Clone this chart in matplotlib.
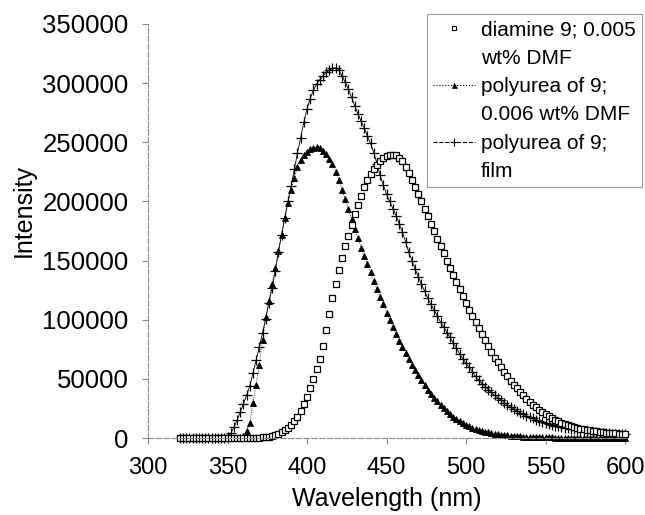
import numpy as np
import matplotlib.pyplot as plt
from matplotlib.lines import Line2D

plt.rcParams['font.family'] = ['Liberation Sans', 'DejaVu Sans']

# wavelength grid (nm), one reading every 2 nm
wavelength = np.arange(320, 601, 2)

# diamine 9; 0.005 wt% DMF (open squares)
diamine_dmf = [
    0, 0, 0, 0, 0, 0, 0, 0, 0, 0,                                              # 320-338
    0, 0, 0, 0, 0, 0, 0, 0, 0, 0,                                              # 340-358
    0, 0, 100, 200, 300, 400, 600, 800, 1200, 1800,                            # 360-378
    2600, 3600, 5000, 6800, 8800, 11200, 14200, 17800, 22500, 28500,           # 380-398
    35000, 42000, 50000, 58000, 67000, 78000, 91000, 105000, 118000, 130000,   # 400-418
    142000, 152000, 162000, 171000, 180000, 189000, 197000, 205000, 212000, 218000,
    223000, 227000, 231000, 234000, 236500, 238000, 239000, 239500, 239000, 237000,
    234000, 229000, 224000, 218000, 212000, 206000, 200000, 194000, 188000, 181000,
    175000, 168000, 162000, 156000, 150000, 144000, 138000, 132000, 126000, 120000,
    114000, 108000, 103000, 98000, 93000, 88000, 83000, 78000, 73000, 68000,   # 500-518
    64000, 60000, 56000, 52000, 48000, 45000, 42000, 39000, 36000, 33000,
    30500, 28000, 26000, 24000, 22000, 20000, 18500, 17000, 15500, 14000,
    13000, 12000, 11000, 10000, 9300, 8600, 8000, 7400, 6900, 6400,
    6000, 5600, 5200, 4900, 4600, 4300, 4100, 3900, 3700, 3500,
    3400,                                                                      # 600
]

# polyurea of 9; 0.006 wt% DMF (filled triangles)
polyurea_dmf = [
    0, 0, 0, 0, 0, 0, 0, 0, 0, 0,
    0, 0, 0, 0, 0, 0, 0, 0, 0, 500,
    2000, 6000, 13000, 30000, 45000, 62000, 83000, 102000, 116000, 130000,
    144000, 158000, 172000, 186000, 199000, 210000, 220000, 229000, 235000, 239000,
    242000, 244000, 245500, 246000, 245000, 243000, 240000, 236000, 232000, 225000,
    218000, 210000, 202000, 194000, 185000, 177000, 169000, 161000, 154000, 147000,
    140000, 133000, 126000, 119000, 113000, 106000, 100000, 94000, 88000, 82000,
    77000, 72000, 67000, 62000, 57500, 53000, 49000, 45000, 41000, 37500,
    34000, 31000, 28000, 25000, 22500, 20000, 18000, 16000, 14000, 12500,
    11000, 9800, 8700, 7700, 6800, 6000, 5300, 4700, 4100, 3600,
    3200, 2800, 2500, 2200, 1900, 1700, 1500, 1300, 1100, 1000,
    900, 800, 700, 650, 600, 550, 500, 450, 400, 380,
    350, 320, 300, 280, 260, 240, 220, 200, 190, 180,
    170, 160, 150, 140, 130, 120, 110, 100, 100, 100,
    100,
]

# polyurea of 9; film (plus signs)
polyurea_film = [
    0, 0, 0, 0, 0, 0, 0, 0, 0, 0,
    0, 0, 0, 0, 0, 1000, 4000, 9000, 15000, 22000,
    29000, 36000, 44000, 55000, 66000, 77000, 89000, 101000, 114000, 127000,
    141000, 157000, 172000, 186000, 200000, 213000, 227000, 241000, 254000, 267000,
    278000, 287000, 294000, 299000, 303000, 306000, 309000, 311000, 312500, 313000,
    311000, 306000, 301000, 295000, 288000, 281000, 274000, 268000, 262000, 255000,
    249000, 241000, 232000, 222000, 214000, 206000, 200000, 194000, 188000, 181000,
    174000, 166000, 157000, 150000, 143000, 136000, 130000, 124000, 118000, 113000,
    108000, 103000, 98000, 94000, 89000, 85000, 80000, 76000, 71000, 67000,
    63000, 60000, 56000, 52000, 49000, 46000, 43500, 41000, 38500, 36000,
    34000, 32000, 30000, 28000, 26000, 24500, 23000, 21500, 20000, 18500,
    17500, 16500, 15500, 14500, 13500, 12700, 12000, 11200, 10500, 9800,
    9200, 8700, 8200, 7700, 7200, 6800, 6400, 6000, 5700, 5400,
    5100, 4800, 4600, 4300, 4100, 3900, 3700, 3500, 3300, 3100,
    3000,
]

legend_labels = ['diamine 9; 0.005', 'wt% DMF',
                 'polyurea of 9;', '0.006 wt% DMF',
                 'polyurea of 9;', 'film']

fig = plt.figure(figsize=(6.45, 5.15), dpi=100)
ax = fig.add_axes([0.2295, 0.1495, 0.7395, 0.8039])

ax.plot(wavelength, polyurea_film, color='black', linestyle='-', linewidth=0.6,
        marker='+', markersize=6.5, markeredgewidth=0.9, clip_on=False)
ax.plot(wavelength, polyurea_dmf, color='black', linestyle=':', linewidth=0.6,
        marker='^', markersize=4.2, markeredgewidth=0.6, clip_on=False)
ax.plot(wavelength, diamine_dmf, color='black', linestyle='none',
        marker='s', markersize=3.9, markerfacecolor='white',
        markeredgewidth=0.9, clip_on=False)

ax.set_xlim(300, 600)
ax.set_ylim(0, 350000)
ax.set_xticks(np.arange(300, 601, 50))
ax.set_yticks(np.arange(0, 350001, 50000))
ax.ticklabel_format(style='plain', axis='y')

for side in ['top', 'right']:
    ax.spines[side].set_visible(False)
for side in ['left', 'bottom']:
    ax.spines[side].set_color('#8a8a8a')
    ax.spines[side].set_linewidth(0.8)
    ax.spines[side].set_linestyle((0, (5, 2)))

ax.tick_params(axis='both', direction='out', length=4, width=0.8,
               color='#8a8a8a', pad=10, labelcolor='black')
ax.tick_params(axis='x', labelsize=17)
ax.tick_params(axis='y', labelsize=18.5)

ax.set_xlabel('Wavelength (nm)', fontsize=18)
ax.set_ylabel('Intensity', fontsize=18)
ax.xaxis.set_label_coords(0.5, -0.118)
ax.yaxis.set_label_coords(-0.236, 0.55)

handles = [
    Line2D([], [], color='black', linestyle='none', marker='s', markersize=3.4,
           markerfacecolor='white', markeredgewidth=0.8),
    Line2D([], [], linestyle='none'),
    Line2D([], [], color='black', linestyle=':', linewidth=0.8, marker='^',
           markersize=3.6, markeredgewidth=0.5),
    Line2D([], [], linestyle='none'),
    Line2D([], [], color='black', linestyle='--', linewidth=0.8, marker='+',
           markersize=5.5, markeredgewidth=0.8),
    Line2D([], [], linestyle='none'),
]
leg = ax.legend(handles, legend_labels, loc='upper left',
                bbox_to_anchor=(0.585, 1.024), borderaxespad=0,
                fontsize=15, labelspacing=0.45, handlelength=2.0,
                handletextpad=0.3, borderpad=0.3, fancybox=False,
                framealpha=1, edgecolor='#999999')
leg.get_frame().set_linewidth(0.8)

plt.savefig('out.png', dpi=100)
